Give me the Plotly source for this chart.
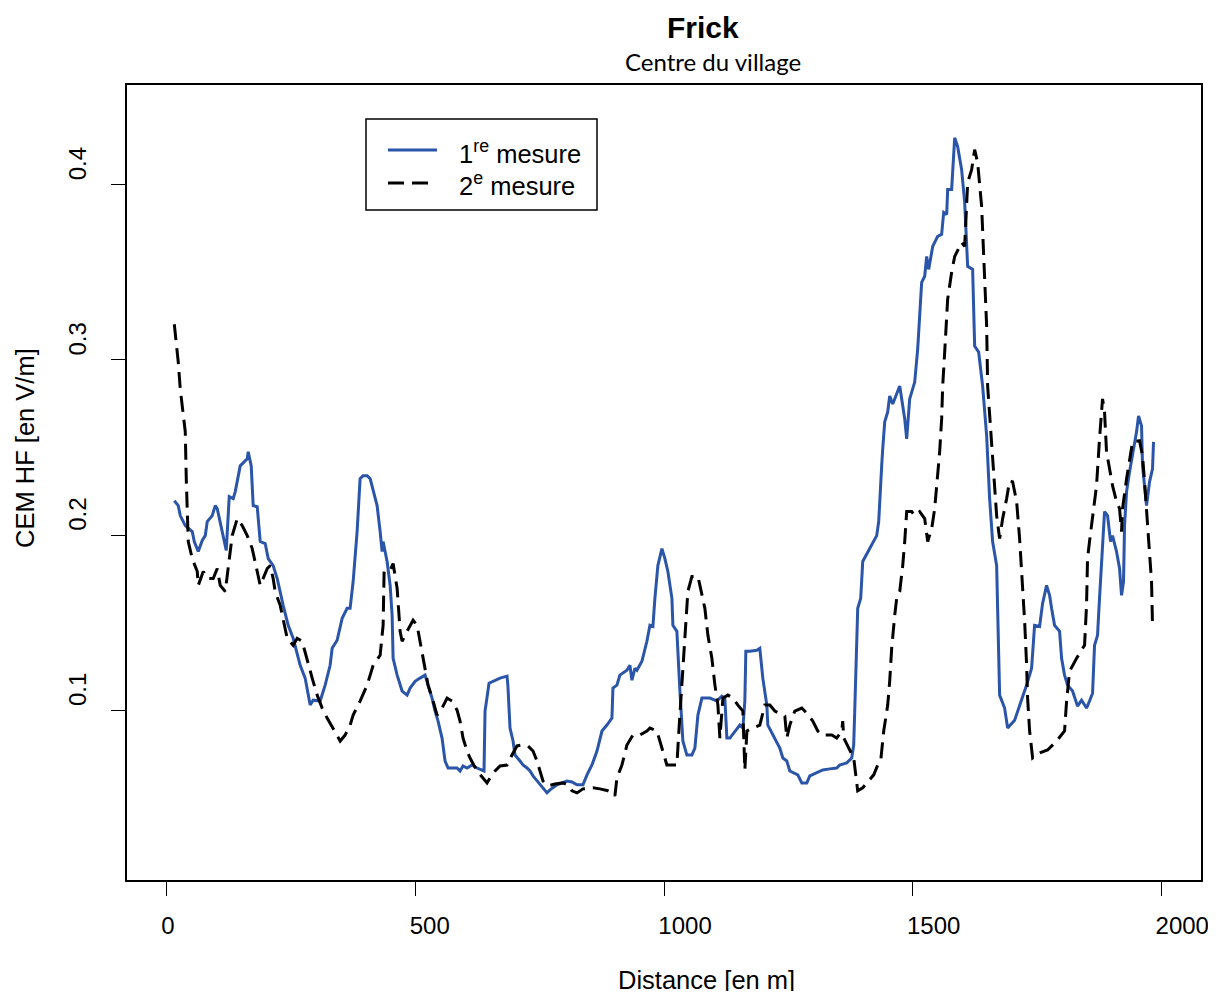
import plotly.graph_objects as go

# 1re mesure
dist_1 = [15.1, 23.1, 27.1, 37.2, 51.2, 55.3, 63.3, 71.3, 77.4, 81.4, 91.4, 97.5, 101.5, 107.5, 119.6, 125.6,
          133.6, 137.7, 147.7, 161.8, 163.8, 169.8, 173.8, 181.9, 187.9, 197.9, 204.0, 214.0, 222.1, 234.1,
          244.2, 254.2, 268.3, 278.3, 288.4, 294.4, 308.5, 318.5, 328.5, 332.6, 342.6, 352.7, 362.7, 368.7,
          374.8, 382.8, 388.8, 394.9, 402.9, 409.0, 415.0, 423.0, 429.1, 433.1, 435.1, 443.1, 449.2, 453.2,
          455.2, 463.3, 473.3, 483.3, 489.4, 499.4, 509.4, 519.5, 525.5, 533.5, 539.6, 545.6, 553.6, 559.7,
          565.7, 583.8, 589.8, 595.8, 603.9, 613.9, 624.0, 634.0, 638.0, 640.1, 644.1, 648.1, 670.2, 684.3,
          686.0, 690.3, 696.4, 700.4, 710.4, 716.5, 724.5, 730.5, 736.6, 744.6, 750.6, 764.7, 770.7, 784.8,
          804.9, 814.9, 825.0, 837.0, 845.1, 855.1, 865.2, 875.2, 885.2, 895.3, 897.3, 905.3, 911.3, 925.4,
          931.4, 935.5, 941.5, 945.5, 955.6, 965.6, 971.7, 977.7, 981.7, 987.7, 995.8, 1001.8, 1007.8, 1015.9,
          1017.9, 1025.9, 1032.0, 1038.0, 1046.0, 1056.1, 1062.1, 1068.2, 1076.2, 1092.3, 1106.3, 1116.4,
          1122.4, 1126.4, 1132.5, 1142.5, 1152.5, 1158.6, 1162.6, 1164.6, 1172.6, 1186.7, 1192.7, 1198.7,
          1206.8, 1208.8, 1222.9, 1232.9, 1239.0, 1247.0, 1253.0, 1263.1, 1269.1, 1277.1, 1287.2, 1293.2,
          1307.3, 1319.3, 1333.4, 1347.4, 1353.4, 1367.5, 1377.5, 1381.5, 1383.6, 1387.6, 1389.6, 1395.6,
          1399.7, 1413.7, 1427.8, 1431.8, 1433.8, 1437.8, 1439.9, 1443.9, 1449.9, 1453.9, 1460.0, 1474.1,
          1484.1, 1488.1, 1494.1, 1504.2, 1510.2, 1518.2, 1524.3, 1528.3, 1532.3, 1540.4, 1550.4, 1558.4,
          1562.5, 1568.5, 1570.5, 1578.5, 1584.6, 1590.6, 1598.6, 1604.7, 1610.7, 1620.7, 1624.8, 1632.8,
          1640.8, 1648.9, 1654.9, 1660.9, 1669.0, 1671.0, 1675.0, 1685.0, 1691.1, 1705.2, 1721.2, 1729.3,
          1739.3, 1745.3, 1755.4, 1761.4, 1769.4, 1775.5, 1779.5, 1785.5, 1795.6, 1799.6, 1805.6, 1811.6,
          1821.7, 1831.7, 1839.8, 1849.8, 1855.8, 1861.9, 1865.9, 1871.9, 1875.9, 1882.0, 1886.0, 1892.0,
          1898.1, 1902.1, 1910.1, 1916.2, 1920.2, 1924.2, 1926.2, 1930.3, 1936.3, 1950.4, 1954.4, 1960.4,
          1962.4, 1970.5, 1976.5, 1982.5, 1984.5]
cem_1 = [0.2196, 0.2168, 0.2111, 0.2054, 0.2020, 0.1963, 0.1906, 0.1969, 0.1997, 0.2077, 0.2111, 0.2168, 0.2151,
         0.2077, 0.1912, 0.2219, 0.2208, 0.2248, 0.2395, 0.2435, 0.2475, 0.2395, 0.2168, 0.2162, 0.1963, 0.1952,
         0.1866, 0.1826, 0.1752, 0.1599, 0.1485, 0.1411, 0.1257, 0.1184, 0.1030, 0.1058, 0.1053, 0.1144, 0.1257,
         0.1354, 0.1400, 0.1525, 0.1582, 0.1582, 0.1735, 0.2020, 0.2322, 0.2339, 0.2339, 0.2322, 0.2248, 0.2168,
         0.2020, 0.1906, 0.1963, 0.1849, 0.1713, 0.1542, 0.1297, 0.1201, 0.1110, 0.1087, 0.1127, 0.1166, 0.1184,
         0.1201, 0.1144, 0.1070, 0.0996, 0.0939, 0.0842, 0.0711, 0.0671, 0.0671, 0.0654, 0.0683, 0.0671, 0.0688,
         0.0671, 0.0660, 0.0654, 0.0996, 0.1070, 0.1155, 0.1184, 0.1195, 0.1144, 0.0899, 0.0825, 0.0745, 0.0711,
         0.0688, 0.0671, 0.0654, 0.0626, 0.0597, 0.0575, 0.0529, 0.0546, 0.0575, 0.0597, 0.0591, 0.0575, 0.0575,
         0.0632, 0.0688, 0.0768, 0.0882, 0.0916, 0.0956, 0.1127, 0.1144, 0.1201, 0.1229, 0.1257, 0.1172, 0.1240,
         0.1229, 0.1280, 0.1394, 0.1485, 0.1479, 0.1639, 0.1826, 0.1923, 0.1866, 0.1792, 0.1639, 0.1485, 0.1451,
         0.1110, 0.0825, 0.0745, 0.0745, 0.0785, 0.0973, 0.1070, 0.1070, 0.1053, 0.1081, 0.1070, 0.0842, 0.0842,
         0.0882, 0.0916, 0.0899, 0.1053, 0.1337, 0.1337, 0.1343, 0.1354, 0.1184, 0.1030, 0.0916, 0.0842, 0.0785,
         0.0728, 0.0711, 0.0654, 0.0643, 0.0632, 0.0586, 0.0586, 0.0626, 0.0643, 0.0660, 0.0666, 0.0671, 0.0688,
         0.0700, 0.0728, 0.0802, 0.0996, 0.1354, 0.1582, 0.1639, 0.1849, 0.1923, 0.1997, 0.2077, 0.2208, 0.2395,
         0.2492, 0.2646, 0.2703, 0.2794, 0.2748, 0.2851, 0.2663, 0.2549, 0.2777, 0.2873, 0.3061, 0.3442, 0.3477,
         0.3590, 0.3516, 0.3647, 0.3704, 0.3716, 0.3841, 0.3829, 0.3972, 0.3972, 0.4267, 0.4216, 0.4085, 0.3898,
         0.3533, 0.3516, 0.3078, 0.3044, 0.2851, 0.2566, 0.2208, 0.1963, 0.1826, 0.1542, 0.1087, 0.1013, 0.0899,
         0.0944, 0.1070, 0.1144, 0.1240, 0.1485, 0.1479, 0.1610, 0.1713, 0.1656, 0.1582, 0.1485, 0.1451, 0.1297,
         0.1201, 0.1144, 0.1110, 0.1024, 0.1058, 0.1013, 0.1053, 0.1098, 0.1371, 0.1428, 0.1639, 0.1923, 0.2134,
         0.2111, 0.1963, 0.1997, 0.1906, 0.1809, 0.1656, 0.1735, 0.2054, 0.2248, 0.2361, 0.2589, 0.2680, 0.2623,
         0.2395, 0.2168, 0.2304, 0.2378, 0.2532]

# 2e mesure
dist_2 = [15.1, 23.1, 27.1, 33.2, 37.2, 39.2, 41.2, 43.2, 51.2, 61.3, 63.3, 73.4, 81.4, 93.4, 101.5, 107.5,
          117.6, 123.6, 131.6, 141.7, 151.7, 161.8, 171.8, 181.9, 187.9, 202.0, 208.0, 214.0, 218.0, 228.1,
          234.1, 242.2, 254.2, 262.3, 272.3, 282.4, 292.4, 302.4, 312.5, 322.5, 334.6, 348.7, 358.7, 368.8,
          374.8, 388.8, 402.9, 415.0, 429.1, 435.1, 437.1, 449.2, 455.2, 463.3, 469.3, 473.3, 483.3, 495.4,
          503.4, 509.4, 519.5, 525.5, 535.6, 543.6, 553.6, 563.7, 573.7, 583.8, 589.8, 595.8, 603.9, 609.9,
          624.0, 636.0, 644.1, 650.1, 660.2, 670.2, 684.3, 694.3, 704.4, 714.4, 726.5, 736.6, 744.6, 750.6,
          756.6, 766.7, 780.8, 796.9, 806.9, 815.0, 825.0, 837.0, 857.1, 871.2, 887.3, 897.3, 901.3, 905.3,
          915.4, 925.4, 937.5, 951.6, 965.6, 971.7, 985.7, 995.8, 1005.8, 1015.9, 1025.9, 1029.9, 1036.0,
          1042.0, 1048.0, 1056.1, 1068.2, 1072.2, 1082.2, 1088.3, 1096.3, 1102.4, 1108.4, 1112.4, 1118.5,
          1128.5, 1138.6, 1148.6, 1158.6, 1162.6, 1166.7, 1178.7, 1192.7, 1202.8, 1212.9, 1222.9, 1237.0,
          1243.0, 1247.0, 1253.0, 1263.1, 1277.1, 1287.2, 1299.2, 1309.3, 1317.3, 1337.4, 1347.4, 1357.5,
          1359.5, 1361.5, 1375.6, 1381.6, 1385.6, 1389.6, 1399.7, 1411.8, 1421.8, 1429.8, 1435.8, 1441.9,
          1449.9, 1453.9, 1457.9, 1464.0, 1468.0, 1474.1, 1480.1, 1484.1, 1488.1, 1498.2, 1504.2, 1514.2,
          1524.3, 1530.3, 1538.4, 1544.4, 1548.4, 1554.4, 1558.4, 1560.5, 1564.5, 1568.5, 1570.5, 1578.5,
          1584.6, 1598.6, 1604.7, 1610.7, 1618.7, 1624.8, 1630.8, 1638.8, 1640.8, 1644.9, 1648.9, 1650.9,
          1658.9, 1665.0, 1669.0, 1675.0, 1681.1, 1689.1, 1695.1, 1701.2, 1709.2, 1715.2, 1721.2, 1725.3,
          1729.3, 1731.3, 1735.3, 1741.4, 1755.4, 1771.5, 1789.6, 1805.6, 1809.7, 1815.7, 1829.8, 1845.8,
          1849.8, 1851.8, 1855.8, 1861.9, 1869.9, 1875.9, 1880.0, 1882.0, 1886.0, 1890.0, 1896.1, 1902.1,
          1910.1, 1916.2, 1920.2, 1922.2, 1930.3, 1936.3, 1942.3, 1956.4, 1962.4, 1966.5, 1970.5, 1974.5,
          1980.5, 1982.5]
cem_2 = [0.3203, 0.2987, 0.2834, 0.2703, 0.2589, 0.2321, 0.2134, 0.1963, 0.1866, 0.1792, 0.1713, 0.1792, 0.1752,
         0.1752, 0.1809, 0.1713, 0.1678, 0.1826, 0.1997, 0.2094, 0.2054, 0.1997, 0.1923, 0.1792, 0.1713, 0.1809,
         0.1826, 0.1752, 0.1678, 0.1599, 0.1525, 0.1411, 0.1371, 0.1411, 0.1394, 0.1280, 0.1184, 0.1087, 0.1013,
         0.0956, 0.0899, 0.0825, 0.0859, 0.0916, 0.0973, 0.1053, 0.1144, 0.1257, 0.1314, 0.1485, 0.1792, 0.1798,
         0.1838, 0.1696, 0.1451, 0.1394, 0.1451, 0.1514, 0.1485, 0.1394, 0.1257, 0.1144, 0.1053, 0.0973, 0.1013,
         0.1070, 0.1053, 0.1001, 0.0939, 0.0842, 0.0768, 0.0728, 0.0654, 0.0614, 0.0586, 0.0614, 0.0654, 0.0683,
         0.0688, 0.0745, 0.0797, 0.0802, 0.0797, 0.0768, 0.0711, 0.0654, 0.0597, 0.0569, 0.0580, 0.0586, 0.0575,
         0.0541, 0.0529, 0.0552, 0.0558, 0.0552, 0.0541, 0.0529, 0.0512, 0.0614, 0.0688, 0.0802, 0.0859, 0.0859,
         0.0882, 0.0899, 0.0882, 0.0785, 0.0688, 0.0688, 0.0688, 0.0882, 0.1144, 0.1451, 0.1678, 0.1764, 0.1764,
         0.1713, 0.1582, 0.1428, 0.1297, 0.1144, 0.1030, 0.0842, 0.1070, 0.1087, 0.1070, 0.1030, 0.0996, 0.0660,
         0.0882, 0.0899, 0.0916, 0.1030, 0.1030, 0.0996, 0.0973, 0.0967, 0.0842, 0.0916, 0.0996, 0.1013, 0.0984,
         0.0939, 0.0882, 0.0859, 0.0859, 0.0842, 0.0882, 0.0939, 0.0842, 0.0768, 0.0728, 0.0632, 0.0541, 0.0558,
         0.0597, 0.0632, 0.0688, 0.0711, 0.0882, 0.1030, 0.1166, 0.1354, 0.1542, 0.1639, 0.1678, 0.1826, 0.1963,
         0.2134, 0.2134, 0.2111, 0.2134, 0.2094, 0.1963, 0.2037, 0.2151, 0.2282, 0.2475, 0.2663, 0.2851, 0.3044,
         0.3232, 0.3346, 0.3499, 0.3590, 0.3670, 0.3647, 0.4011, 0.4085, 0.4199, 0.4125, 0.3875, 0.3744, 0.3420,
         0.3192, 0.2851, 0.2549, 0.2282, 0.2111, 0.1980, 0.2094, 0.2208, 0.2310, 0.2304, 0.2191, 0.1980, 0.1735,
         0.1508, 0.1257, 0.1070, 0.0882, 0.0728, 0.0757, 0.0774, 0.0825, 0.0882, 0.1053, 0.1223, 0.1297, 0.1371,
         0.1599, 0.1866, 0.1963, 0.2111, 0.2282, 0.2549, 0.2720, 0.2777, 0.2703, 0.2475, 0.2378, 0.2282, 0.2191,
         0.2151, 0.2020, 0.2151, 0.2321, 0.2435, 0.2532, 0.2538, 0.2452, 0.2304, 0.2151, 0.1963, 0.1735, 0.1485]

series_names = ["1<sup>re</sup> mesure", "2<sup>e</sup> mesure"]
x_ticks = [0, 500, 1000, 1500, 2000]
y_ticks = [0.1, 0.2, 0.3, 0.4]
y_tick_text = ["0.1", "0.2", "0.3", "0.4"]

FONT = "Liberation Sans, Arial, sans-serif"
BLUE = "#2b55a8"
DASH = "16px,8px"

# The page body has an 8px margin: the figure is sized and laid out so that
# the plot area lands at pixels 127..1201 x 85..880 of the window.
W, H = 1208, 983
L, T = 127 - 8, 85 - 8
R = W - (1201 - 8)
B = H - (880 - 8)
PW, PH = W - L - R, H - T - B


def px(x):  # reference window pixel -> paper x
    return (x - 127) / PW


def py(y):  # reference window pixel -> paper y
    return (880 - y) / PH


fig = go.Figure()
fig.add_trace(go.Scatter(x=dist_1, y=cem_1, mode="lines", name=series_names[0],
                         line=dict(color=BLUE, width=3)))
fig.add_trace(go.Scatter(x=dist_2, y=cem_2, mode="lines", name=series_names[1],
                         line=dict(color="black", width=3, dash=DASH)))

axis_common = dict(showline=True, linecolor="black", linewidth=1.5, mirror=True,
                   ticks="outside", ticklen=14, tickwidth=1.2, tickcolor="black",
                   showgrid=False, zeroline=False,
                   tickfont=dict(family=FONT, size=24, color="black"))

fig.update_xaxes(range=[-80, 2080], tickvals=x_ticks, ticklabelposition="outside right",
                 ticklabelstandoff=23, ticklabelshift=-7, **axis_common)
fig.update_yaxes(range=[0.0032, 0.4568], tickvals=y_ticks, ticktext=y_tick_text, tickangle=-90,
                 ticklabelposition="outside top", ticklabelstandoff=30, **axis_common)

shapes = [
    # legend box
    dict(type="rect", xref="paper", yref="paper", x0=px(366), x1=px(597), y0=py(210), y1=py(119),
         line=dict(color="black", width=1.5), fillcolor="white", layer="above"),
    dict(type="line", xref="paper", yref="paper", x0=px(388), x1=px(437), y0=py(150), y1=py(150),
         line=dict(color=BLUE, width=3), layer="above"),
    dict(type="line", xref="paper", yref="paper", x0=px(388), x1=px(429), y0=py(183), y1=py(183),
         line=dict(color="black", width=3, dash=DASH), layer="above"),
]

annotations = [
    dict(text=series_names[0], x=px(457), y=py(152), xanchor="left", yanchor="middle",
         font=dict(family=FONT, size=25.5, color="black")),
    dict(text=series_names[1], x=px(457), y=py(184), xanchor="left", yanchor="middle",
         font=dict(family=FONT, size=25.5, color="black")),
    dict(text="<b>Frick</b>", x=px(703), y=py(27), xanchor="center", yanchor="middle",
         font=dict(family=FONT, size=30, color="black")),
    dict(text="Centre du village", x=px(713), y=py(61), xanchor="center", yanchor="middle",
         font=dict(family="Lato, sans-serif", size=24, color="black")),
    dict(text="Distance [en m]", x=px(706), y=py(980), xanchor="center", yanchor="middle",
         font=dict(family=FONT, size=25.5, color="black")),
    dict(text="CEM HF [en V/m]", x=px(25), y=py(448), xanchor="center", yanchor="middle", textangle=-90,
         font=dict(family=FONT, size=25.5, color="black")),
]
for a in annotations:
    a.update(xref="paper", yref="paper", showarrow=False)

fig.update_layout(
    width=W, height=H,
    margin=dict(l=L, r=R, t=T, b=B, autoexpand=False),
    paper_bgcolor="white", plot_bgcolor="white",
    font=dict(family=FONT, color="black"),
    showlegend=False,
    shapes=shapes,
    annotations=annotations,
)

fig.write_html("out.html")
